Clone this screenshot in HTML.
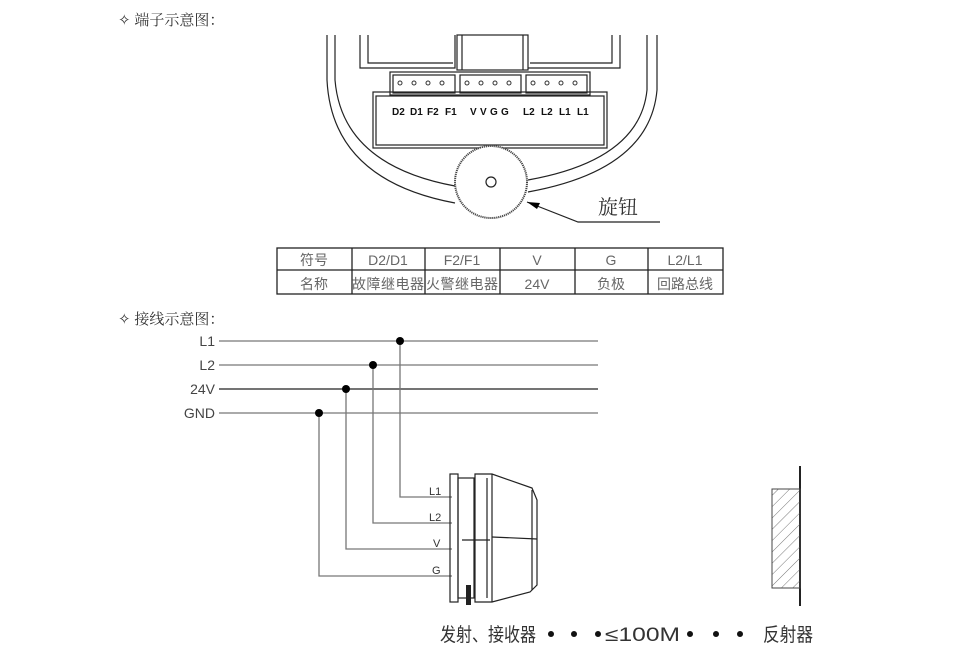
<!DOCTYPE html>
<html><head><meta charset="utf-8"><style>
html,body{margin:0;padding:0;background:#fff;}
svg{display:block;}
text{font-family:"Liberation Sans","Noto Sans CJK SC",sans-serif;}
.s{font-family:"Noto Serif CJK SC","Liberation Serif",serif;}
</style></head><body>
<svg width="955" height="666" viewBox="0 0 955 666" xmlns="http://www.w3.org/2000/svg">
<defs>
<pattern id="h" width="8" height="8" patternUnits="userSpaceOnUse" patternTransform="rotate(45)">
<line x1="0" y1="0" x2="0" y2="8" stroke="#555" stroke-width="0.8"/>
</pattern>
</defs>
<text x="118" y="25" font-size="15" fill="#333" class="s">✧ 端子示意图：</text>
<g fill="none" stroke="#222" stroke-width="1.2">
<path d="M327 35 L327 80 Q332 180 455 203"/>
<path d="M335 35 L335 80 Q342 165 455 186"/>
<path d="M657 35 L657 90 Q650 170 528 192"/>
<path d="M647 35 L647 90 Q640 160 528 180"/>
<path d="M360 35 V68 H455 V35 M368 35 V63 H453"/>
<rect x="457" y="35" width="71" height="35"/>
<line x1="462" y1="35" x2="462" y2="70"/><line x1="523" y1="35" x2="523" y2="70"/>
<path d="M620 35 V68 H528 M612 35 V63 H530"/>
<rect x="390" y="72" width="200" height="23"/>
<rect x="393" y="75" width="62" height="18"/><rect x="460" y="75" width="61" height="18"/><rect x="526" y="75" width="61" height="18"/>
<rect x="373" y="92" width="234" height="56"/>
<rect x="376" y="96" width="228" height="49"/>
<circle cx="491" cy="182" r="36" fill="#fff" stroke="#444" stroke-width="2" stroke-dasharray="1.2 0.8"/>
<circle cx="491" cy="182" r="5"/>
<path d="M660 222 H578 L527 202"/>
</g>
<g fill="none" stroke="#333" stroke-width="1">
<circle cx="400" cy="83" r="2"/><circle cx="414" cy="83" r="2"/><circle cx="428" cy="83" r="2"/><circle cx="442" cy="83" r="2"/>
<circle cx="467" cy="83" r="2"/><circle cx="481" cy="83" r="2"/><circle cx="495" cy="83" r="2"/><circle cx="509" cy="83" r="2"/>
<circle cx="533" cy="83" r="2"/><circle cx="547" cy="83" r="2"/><circle cx="561" cy="83" r="2"/><circle cx="575" cy="83" r="2"/>
</g>
<polygon points="527,202 540,203 537,209" fill="#000"/>
<g font-size="10" font-weight="bold" fill="#111">
<text x="392" y="115">D2</text><text x="410" y="115">D1</text><text x="427" y="115">F2</text><text x="445" y="115">F1</text>
<text x="470" y="115">V</text><text x="480" y="115">V</text><text x="490" y="115">G</text><text x="501" y="115">G</text>
<text x="523" y="115">L2</text><text x="541" y="115">L2</text><text x="559" y="115">L1</text><text x="577" y="115">L1</text>
</g>
<text x="598" y="214" font-size="20" fill="#333" class="s">旋钮</text>
<g fill="none" stroke="#222" stroke-width="1.3">
<rect x="277" y="248" width="446" height="46"/>
<line x1="277" y1="270" x2="723" y2="270"/>
<line x1="352" y1="248" x2="352" y2="294"/><line x1="425" y1="248" x2="425" y2="294"/><line x1="500" y1="248" x2="500" y2="294"/><line x1="575" y1="248" x2="575" y2="294"/><line x1="648" y1="248" x2="648" y2="294"/>
</g>
<g font-size="14" fill="#666" text-anchor="middle" class="s">
<text x="314" y="265">符号</text><text x="388" y="265">D2/D1</text><text x="462" y="265">F2/F1</text><text x="537" y="265">V</text><text x="611" y="265">G</text><text x="685" y="265">L2/L1</text>
<text x="314" y="289">名称</text><text x="388" y="289" textLength="72">故障继电器</text><text x="462" y="289" textLength="72">火警继电器</text><text x="537" y="289">24V</text><text x="611" y="289">负极</text><text x="685" y="289">回路总线</text>
</g>
<text x="118" y="324" font-size="15" fill="#333" class="s">✧ 接线示意图：</text>
<g font-size="14" fill="#444" text-anchor="end">
<text x="215" y="346">L1</text><text x="215" y="370">L2</text><text x="215" y="394">24V</text><text x="215" y="418">GND</text>
</g>
<g stroke="#777" stroke-width="1.3" fill="none">
<line x1="219" y1="341" x2="598" y2="341"/><line x1="219" y1="365" x2="598" y2="365"/><line x1="219" y1="389" x2="598" y2="389" stroke="#222"/><line x1="219" y1="413" x2="598" y2="413"/>
<path d="M400 341 V497 H452"/><path d="M373 365 V523 H452"/><path d="M346 389 V549 H452"/><path d="M319 413 V576 H452"/>
</g>
<g fill="#000"><circle cx="400" cy="341" r="4"/><circle cx="373" cy="365" r="4"/><circle cx="346" cy="389" r="4"/><circle cx="319" cy="413" r="4"/></g>
<g font-size="11" fill="#333"><text x="429" y="495">L1</text><text x="429" y="521">L2</text><text x="433" y="547">V</text><text x="432" y="574">G</text></g>
<g fill="none" stroke="#222" stroke-width="1.2">
<rect x="450" y="474" width="8" height="128"/>
<rect x="458" y="478" width="16" height="120"/>
<path d="M475 474 H492 L532 488 L537 500 V585 L530 592 L492 602 H475 Z"/>
<line x1="492" y1="474" x2="492" y2="602"/><line x1="487" y1="478" x2="487" y2="598"/>
<path d="M492 537 L537 539"/><line x1="532" y1="490" x2="532" y2="590"/>
<line x1="462" y1="540" x2="490" y2="540"/>
</g>
<rect x="466" y="585" width="5" height="20" fill="#222"/>
<line x1="800" y1="466" x2="800" y2="606" stroke="#222" stroke-width="2"/>
<rect x="772" y="489" width="28" height="99" fill="url(#h)" stroke="#444"/>
<g font-size="19" fill="#333">
<text x="440" y="641" textLength="96" lengthAdjust="spacingAndGlyphs">发射、接收器</text>
<text x="605" y="641" textLength="75" lengthAdjust="spacingAndGlyphs">≤100M</text>
<text x="763" y="641" textLength="50" lengthAdjust="spacingAndGlyphs">反射器</text>
</g>
<g fill="#111"><circle cx="551" cy="634" r="3"/><circle cx="574" cy="634" r="3"/><circle cx="598" cy="634" r="3"/><circle cx="690" cy="634" r="3"/><circle cx="716" cy="634" r="3"/><circle cx="740" cy="634" r="3"/></g>
</svg>
</body></html>
